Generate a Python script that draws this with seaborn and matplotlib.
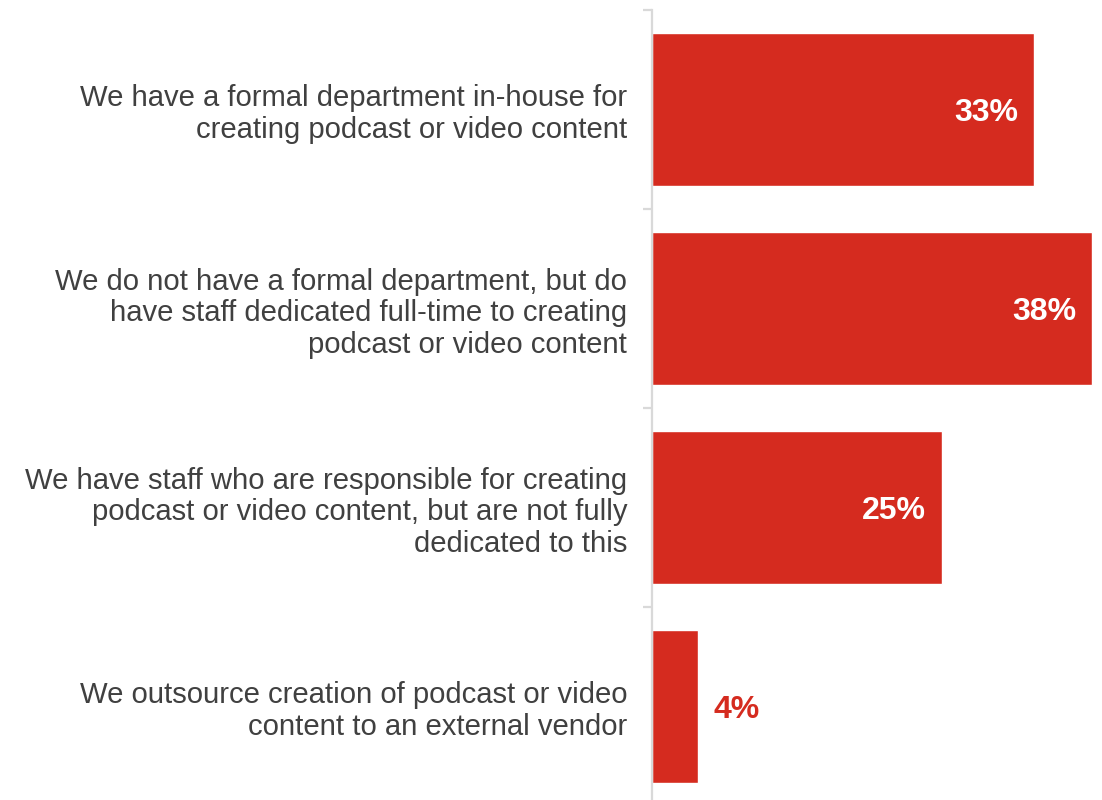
import matplotlib
matplotlib.use("Agg")
import matplotlib.pyplot as plt
import seaborn as sns
import pandas as pd
import numpy as np

categories = [
    "We have a formal department in-house for\ncreating podcast or video content",
    "We do not have a formal department, but do\nhave staff dedicated full-time to creating\npodcast or video content",
    "We have staff who are responsible for creating\npodcast or video content, but are not fully\ndedicated to this",
    "We outsource creation of podcast or video\ncontent to an external vendor",
]
values = [33, 38, 25, 4]
value_labels = ["33%", "38%", "25%", "4%"]

BAR_RED = "#D52B1F"
TEXT_GRAY = "#404040"
SPINE_GRAY = "#D9D9D9"

sns.set_theme(style="white")
plt.rcParams["font.family"] = ["Liberation Sans", "DejaVu Sans"]

df = pd.DataFrame({"category": categories, "value": values})

W, H = 1102, 800
fig = plt.figure(figsize=(W / 100, H / 100), dpi=100)
ax = fig.add_axes([652 / W, 0, (W - 652) / W, (H - 10) / H])

sns.barplot(data=df, y="category", x="value", orient="h", color=BAR_RED,
            width=0.765, saturation=1, ax=ax)

ax.set_xlim(0, (W - 652) / 11.58)
ax.set_ylim(3.47, -0.5)

# value labels: white inside long bars, red beside short ones
for i, (v, lab) in enumerate(zip(values, value_labels)):
    y = i + 0.018
    if v >= 10:
        ax.text(v - 1.35, y, lab, ha="right", va="center", color="white",
                fontsize=23, fontweight="bold")
    else:
        ax.text(v + 1.35, y, lab, ha="left", va="center", color=BAR_RED,
                fontsize=23, fontweight="bold")

ax.set_xlabel("")
ax.set_ylabel("")
ax.set_xticks([])
for s in ["top", "right", "bottom"]:
    ax.spines[s].set_visible(False)
ax.spines["left"].set_color(SPINE_GRAY)
ax.spines["left"].set_linewidth(1.6)

ax.set_yticks(range(len(categories)))
ax.set_yticklabels(categories, fontsize=21.1, color=TEXT_GRAY, linespacing=1.17)
ax.tick_params(axis="y", which="major", length=0, pad=18)
ax.set_yticks(np.arange(-0.5, len(categories) - 0.5, 1.0), minor=True)
ax.tick_params(axis="y", which="minor", length=6.5, width=1.6,
               color=SPINE_GRAY, left=True)

fig.savefig("out.png", dpi=100)
